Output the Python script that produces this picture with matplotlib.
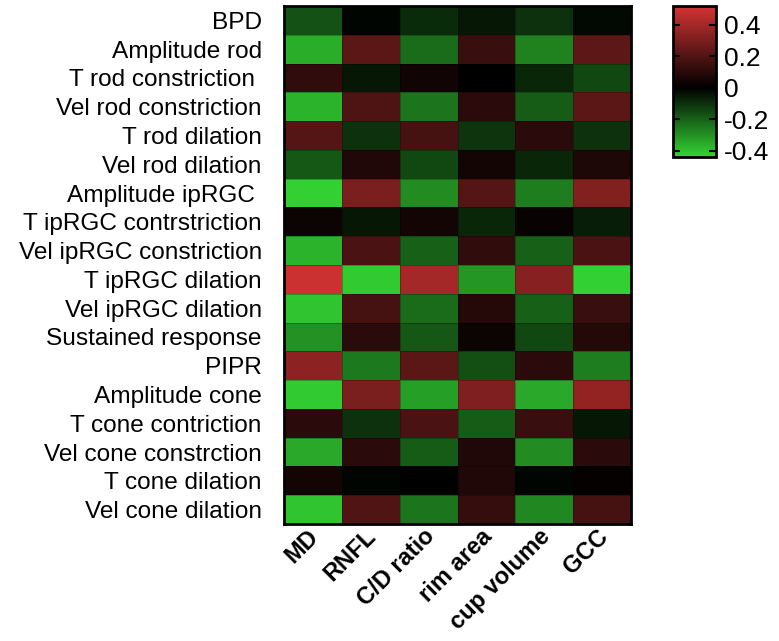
import matplotlib.pyplot as plt
import matplotlib.transforms as mtransforms
import numpy as np
from matplotlib.colors import LinearSegmentedColormap, Normalize

plt.rcParams['font.family'] = ['Liberation Sans', 'DejaVu Sans']

rows = ["BPD", "Amplitude rod", "T rod constriction ", "Vel rod constriction",
        "T rod dilation", "Vel rod dilation", "Amplitude ipRGC ",
        "T ipRGC contrstriction", "Vel ipRGC constriction", "T ipRGC dilation",
        "Vel ipRGC dilation", "Sustained response", "PIPR", "Amplitude cone",
        "T cone contriction", "Vel cone constrction", "T cone dilation",
        "Vel cone dilation"]
cols = ["MD", "RNFL", "C/D ratio", "rim area", "cup volume", "GCC"]

# correlation values, one list per row
bpd = [-0.17, -0.01, -0.09, -0.05, -0.10, -0.02]
amp_rod = [-0.36, 0.22, -0.22, 0.14, -0.27, 0.23]
t_rod_con = [0.12, -0.05, 0.04, 0.00, -0.08, -0.15]
vel_rod_con = [-0.37, 0.19, -0.24, 0.10, -0.19, 0.22]
t_rod_dil = [0.21, -0.10, 0.17, -0.11, 0.10, -0.10]
vel_rod_dil = [-0.18, 0.08, -0.15, 0.05, -0.08, 0.07]
amp_iprgc = [-0.43, 0.30, -0.29, 0.21, -0.26, 0.32]
t_iprgc_con = [0.03, -0.05, 0.05, -0.08, 0.02, -0.06]
vel_iprgc_con = [-0.37, 0.18, -0.20, 0.12, -0.20, 0.18]
t_iprgc_dil = [0.50, -0.42, 0.40, -0.31, 0.33, -0.43]
vel_iprgc_dil = [-0.41, 0.17, -0.22, 0.09, -0.20, 0.14]
sustained = [-0.30, 0.10, -0.18, 0.03, -0.15, 0.09]
pipr = [0.34, -0.25, 0.22, -0.16, 0.10, -0.26]
amp_cone = [-0.42, 0.30, -0.33, 0.31, -0.35, 0.36]
t_cone_con = [0.10, -0.10, 0.18, -0.19, 0.14, -0.05]
vel_cone_con = [-0.35, 0.10, -0.19, 0.08, -0.29, 0.10]
t_cone_dil = [0.05, -0.01, 0.00, 0.08, -0.01, 0.01]
vel_cone_dil = [-0.41, 0.20, -0.24, 0.13, -0.28, 0.17]

values = np.array([bpd, amp_rod, t_rod_con, vel_rod_con, t_rod_dil, vel_rod_dil,
                   amp_iprgc, t_iprgc_con, vel_iprgc_con, t_iprgc_dil,
                   vel_iprgc_dil, sustained, pipr, amp_cone, t_cone_con,
                   vel_cone_con, t_cone_dil, vel_cone_dil])

vmin, vmax = -0.44, 0.52
mid = -vmin / (vmax - vmin)
cmap = LinearSegmentedColormap.from_list(
    "gkr", [(0.0, (0.20, 0.83, 0.20)), (mid, (0, 0, 0)), (1.0, (0.83, 0.20, 0.20))])
norm = Normalize(vmin=vmin, vmax=vmax)

fig = plt.figure(figsize=(7.79, 6.41), dpi=100)
ax = fig.add_axes([284 / 779, 1 - 524 / 641, 347 / 779, 518 / 641])
mesh = ax.pcolormesh(values, cmap=cmap, norm=norm,
                     edgecolors=(0, 0, 0, 0.25), linewidth=0.6)
ax.set_xlim(0, len(cols))
ax.set_ylim(len(rows), 0)

ax.set_yticks(np.arange(len(rows)) + 0.5)
ax.set_yticklabels(rows, fontsize=17.6)
ax.set_xticks(np.arange(len(cols)) + 0.5)
ax.set_xticklabels(cols, fontsize=17, fontweight='bold', rotation=45,
                   ha='right', va='top', rotation_mode='anchor')
ax.tick_params(length=0, pad=16)
ax.tick_params(axis='x', pad=2)
shift = mtransforms.ScaledTranslation(-0.06, 0.02, fig.dpi_scale_trans)
for lab in ax.get_xticklabels():
    lab.set_transform(lab.get_transform() + shift)
for s in ax.spines.values():
    s.set_linewidth(2)

cax = fig.add_axes([673 / 779, 1 - 157 / 641, 43 / 779, 151 / 641])
cbar = fig.colorbar(mesh, cax=cax, ticks=[0.4, 0.2, 0, -0.2, -0.4])
cbar.ax.set_yticklabels(["0.4", "0.2", "0", "-0.2", "-0.4"], fontsize=19)
cbar.ax.tick_params(direction='in', length=5, width=1.5, left=True, right=True,
                    labelleft=False, labelright=True, pad=6)
cbar.outline.set_linewidth(2)

fig.savefig("out.png", dpi=100)
